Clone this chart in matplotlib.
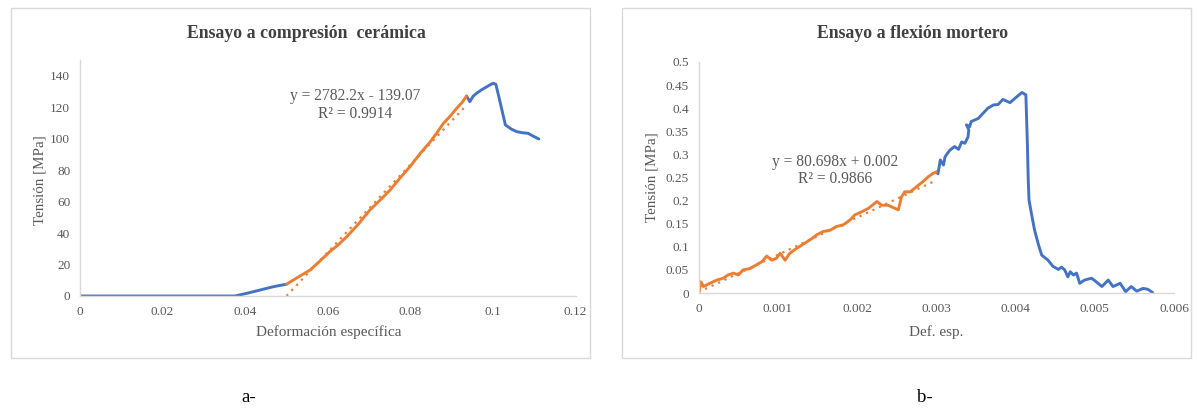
import matplotlib
matplotlib.use("Agg")
import matplotlib.pyplot as plt
from matplotlib.patches import Rectangle

# ---------------- data: chart a (compression, ceramic) ----------------
a_pre_x = [0, 0.01, 0.02, 0.03, 0.0375, 0.0404, 0.0436, 0.0468, 0.05]
a_pre_y = [0, 0, 0, 0, 0, 1.7, 3.8, 5.9, 7.5]
a_fit_x = [0.05, 0.0525, 0.0557, 0.058, 0.0605, 0.0625, 0.0646, 0.0675, 0.0702,
           0.0725, 0.0751, 0.0775, 0.0799, 0.0825, 0.0848, 0.0865, 0.088, 0.0897,
           0.0912, 0.0925, 0.0936]
a_fit_y = [7.5, 11.5, 16.5, 22, 28.2, 32.5, 37.7, 46, 54.7, 60.5, 67.4, 75, 82.2,
           91, 98, 104, 109.8, 114.5, 119.3, 123, 127.1]
a_post_x = [0.0936, 0.0944, 0.0952, 0.096, 0.0972, 0.0985, 0.0995, 0.1001, 0.1007,
            0.1016, 0.103, 0.1045, 0.1057, 0.107, 0.1085, 0.1098, 0.1111]
a_post_y = [127.1, 123.5, 127, 128.8, 131, 133, 134.5, 135.2, 134.5, 124.6, 108.7,
            106, 104.5, 103.8, 103.4, 101.5, 99.8]
a_slope, a_icpt = 2782.2, -139.07
a_trend_x = [0.05, 0.0935]
a_eq = "y = 2782.2x - 139.07\nR² = 0.9914"
a_xticks = [0, 0.02, 0.04, 0.06, 0.08, 0.1, 0.12]
a_xticklabels = ["0", "0.02", "0.04", "0.06", "0.08", "0.1", "0.12"]
a_yticks = [0, 20, 40, 60, 80, 100, 120, 140]
a_yticklabels = ["0", "20", "40", "60", "80", "100", "120", "140"]

# ---------------- data: chart b (flexion, mortar) ----------------
b_fit_x = [0, 0.00001, 0.00003, 0.00006, 0.00014, 0.00023, 0.00031, 0.00037, 0.00044,
           0.0005, 0.00056, 0.00065, 0.00073, 0.0008, 0.00086, 0.00092, 0.00098,
           0.00103, 0.00109, 0.00115, 0.00124, 0.00134, 0.00143, 0.00149, 0.00157,
           0.00166, 0.00174, 0.00182, 0.00191, 0.00197, 0.00206, 0.00214, 0.00225,
           0.00231, 0.00239, 0.00248, 0.00252, 0.00256, 0.0026, 0.00267, 0.00275,
           0.00283, 0.0029, 0.00296, 0.003]
b_fit_y = [0.028, 0.007, 0.024, 0.014, 0.021, 0.028, 0.032, 0.039, 0.043,
           0.039, 0.050, 0.053, 0.061, 0.068, 0.080, 0.071, 0.075,
           0.086, 0.071, 0.086, 0.097, 0.108, 0.118, 0.126, 0.133,
           0.136, 0.144, 0.147, 0.158, 0.169, 0.176, 0.183, 0.198,
           0.190, 0.190, 0.183, 0.180, 0.208, 0.219, 0.219, 0.230,
           0.241, 0.252, 0.259, 0.262]
b_post_x = [0.003, 0.00302, 0.00305, 0.00309, 0.00311, 0.00317, 0.00323, 0.00328,
            0.00332, 0.00336, 0.0034, 0.00341, 0.00338, 0.00342, 0.00344, 0.00353,
            0.00359, 0.00365, 0.00372, 0.00378, 0.00384, 0.00393, 0.00399, 0.00408,
            0.00413, 0.00415, 0.00416, 0.00417, 0.0042, 0.00424, 0.00429, 0.00433,
            0.00441, 0.00447, 0.00454, 0.00458, 0.00462, 0.00466, 0.00469, 0.00473,
            0.00477, 0.00481, 0.00487, 0.00496, 0.00502, 0.00509, 0.00517, 0.00523,
            0.00527, 0.00532, 0.00539, 0.00546, 0.00553, 0.00561, 0.00567, 0.00573]
b_post_y = [0.262, 0.258, 0.288, 0.277, 0.295, 0.309, 0.317, 0.311,
            0.327, 0.324, 0.338, 0.353, 0.364, 0.360, 0.371, 0.378,
            0.389, 0.400, 0.407, 0.408, 0.419, 0.412, 0.421, 0.434,
            0.429, 0.318, 0.245, 0.201, 0.172, 0.136, 0.104, 0.082,
            0.071, 0.058, 0.051, 0.056, 0.050, 0.035, 0.046, 0.039,
            0.043, 0.021, 0.028, 0.032, 0.024, 0.014, 0.028, 0.014,
            0.017, 0.021, 0.003, 0.014, 0.004, 0.010, 0.008, 0.001]
b_slope, b_icpt = 80.698, 0.002
b_trend_x = [0, 0.003]
b_eq = "y = 80.698x + 0.002\nR² = 0.9866"
b_xticks = [0, 0.001, 0.002, 0.003, 0.004, 0.005, 0.006]
b_xticklabels = ["0", "0.001", "0.002", "0.003", "0.004", "0.005", "0.006"]
b_yticks = [0, 0.05, 0.1, 0.15, 0.2, 0.25, 0.3, 0.35, 0.4, 0.45, 0.5]
b_yticklabels = ["0", "0.05", "0.1", "0.15", "0.2", "0.25", "0.3", "0.35", "0.4", "0.45", "0.5"]

BLUE = "#4472C4"
ORANGE = "#ED7D31"
TXT = "#595959"
TITLE = "#404040"
AXC = "#D9D9D9"
SERIF = ["Liberation Serif", "DejaVu Serif"]

plt.rcParams["font.family"] = SERIF

fig = plt.figure(figsize=(11.99, 4.09), dpi=100)
W, H = 1199, 409

def fx(px):
    return px / W

def fy(py):
    return 1 - py / H

# panel borders
for (x0, y0, x1, y1) in [(11, 8, 590, 358), (622, 8, 1191, 358)]:
    fig.add_artist(Rectangle((fx(x0), fy(y1)), fx(x1 - x0), (y1 - y0) / H,
                             transform=fig.transFigure, fill=False,
                             edgecolor=AXC, linewidth=1.0))

def style(ax, xlim, ylim, xt, xtl, yt, ytl):
    ax.set_xlim(*xlim)
    ax.set_ylim(*ylim)
    for s in ["top", "right"]:
        ax.spines[s].set_visible(False)
    for s in ["left", "bottom"]:
        ax.spines[s].set_color(AXC)
        ax.spines[s].set_linewidth(1.0)
    ax.set_xticks(xt)
    ax.set_xticklabels(xtl)
    ax.set_yticks(yt)
    ax.set_yticklabels(ytl)
    ax.tick_params(length=0, labelsize=9.5, labelcolor=TXT, pad=7)
    ax.patch.set_alpha(0)

# ---------------- chart a ----------------
axa = fig.add_axes([fx(80), fy(296), fx(575.6 - 80), (296 - 60) / H])
style(axa, (0, 0.12), (0, 150), a_xticks, a_xticklabels, a_yticks, a_yticklabels)
axa.plot(a_pre_x, a_pre_y, color=BLUE, lw=2.1, solid_capstyle="round", solid_joinstyle="round")
axa.plot(a_post_x, a_post_y, color=BLUE, lw=2.1, solid_capstyle="round", solid_joinstyle="round")
axa.plot(a_fit_x, a_fit_y, color=ORANGE, lw=2.1, solid_capstyle="round", solid_joinstyle="round")
axa.plot(a_trend_x, [a_slope * v + a_icpt for v in a_trend_x], color=ORANGE,
         lw=1.6, linestyle=(0, (1, 2.2)))
axa.text(0.0666, 121.3, a_eq, ha="center", va="center", fontsize=11.2,
         color=TXT, linespacing=1.15)
fig.text(fx(306), fy(33), "Ensayo a compresión  cerámica", ha="center", va="center",
         fontsize=12.8, fontweight="bold", color=TITLE)
fig.text(fx(40), fy(180), "Tensión [MPa]", ha="center", va="center", rotation=90,
         fontsize=10.8, color=TXT)
fig.text(fx(329), fy(332), "Deformación específica", ha="center", va="center",
         fontsize=11, color=TXT)

# ---------------- chart b ----------------
axb = fig.add_axes([fx(698.7), fy(293), fx(1174 - 698.7), (293 - 62) / H])
style(axb, (0, 0.006), (0, 0.5), b_xticks, b_xticklabels, b_yticks, b_yticklabels)
axb.plot(b_post_x, b_post_y, color=BLUE, lw=2.1, solid_capstyle="round", solid_joinstyle="round")
axb.plot(b_fit_x, b_fit_y, color=ORANGE, lw=2.1, solid_capstyle="round", solid_joinstyle="round")
axb.plot(b_trend_x, [b_slope * v + b_icpt for v in b_trend_x], color=ORANGE,
         lw=1.6, linestyle=(0, (1, 2.2)))
axb.text(0.00172, 0.265, b_eq, ha="center", va="center", fontsize=11.2,
         color=TXT, linespacing=1.15)
fig.text(fx(913), fy(33), "Ensayo a flexión mortero", ha="center", va="center",
         fontsize=12.8, fontweight="bold", color=TITLE)
fig.text(fx(651.6), fy(177), "Tensión [MPa]", ha="center", va="center", rotation=90,
         fontsize=10.8, color=TXT)
fig.text(fx(936), fy(332), "Def. esp.", ha="center", va="center",
         fontsize=11, color=TXT)

# panel captions
fig.text(fx(249), fy(397), "a-", ha="center", va="center", fontsize=13.5, color="black")
fig.text(fx(925), fy(397), "b-", ha="center", va="center", fontsize=13.5, color="black")

fig.savefig("out.png", dpi=100, facecolor="white")
